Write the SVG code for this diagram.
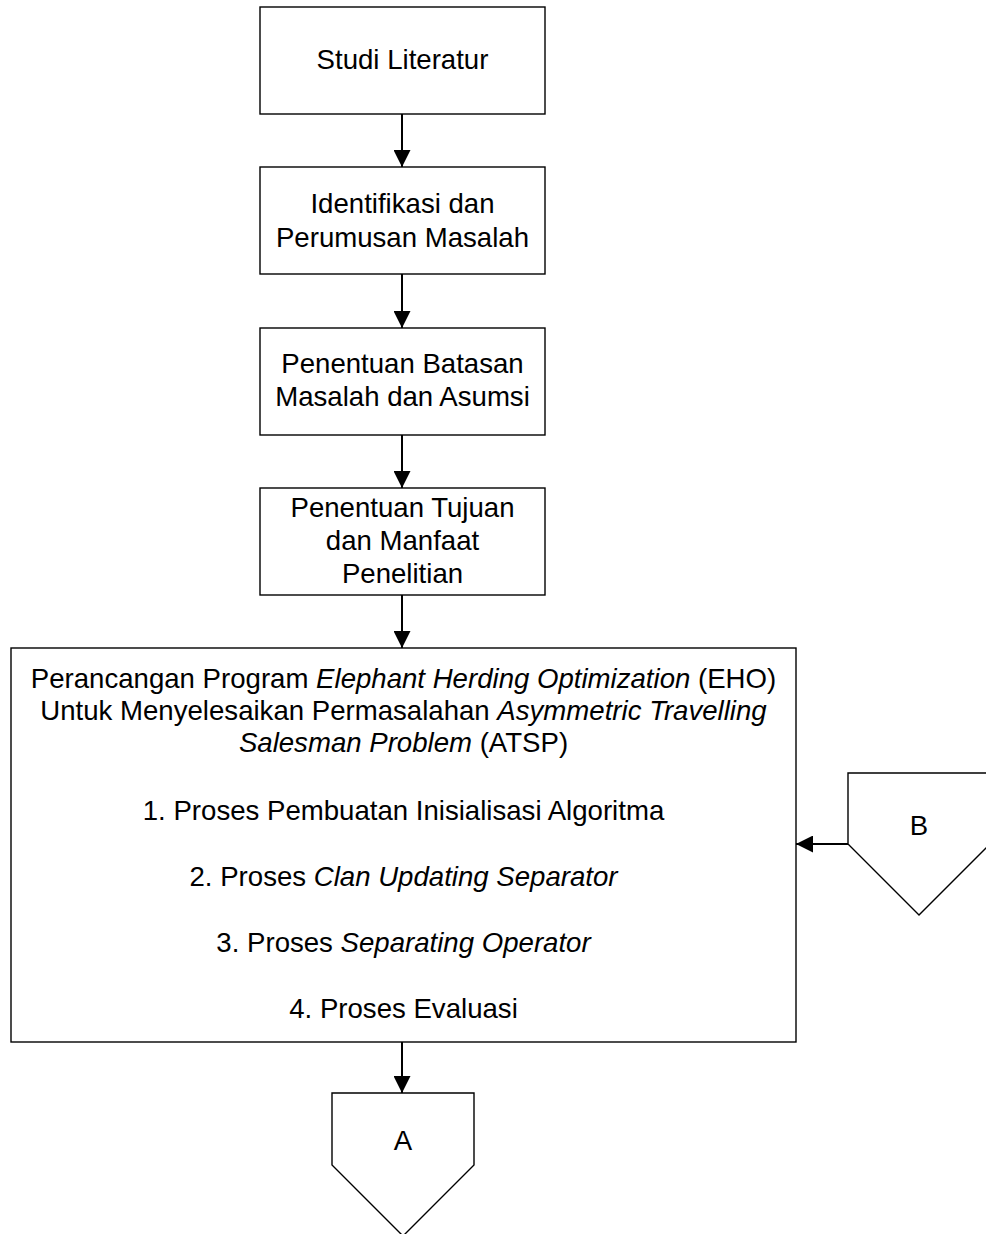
<svg xmlns="http://www.w3.org/2000/svg" width="986" height="1234" viewBox="0 0 986 1234">
<style>
.box{fill:#fff;stroke:#000;stroke-width:1.4}
.t{font-family:"Liberation Sans",Arial,sans-serif;font-size:27.6px;fill:#000;text-anchor:middle}
.i{font-style:italic}
.c{stroke:#000;stroke-width:2;fill:none}
</style>
<defs>
<marker id="ah" markerUnits="userSpaceOnUse" markerWidth="17" markerHeight="17" refX="17" refY="8.5" orient="auto">
<path d="M0,0 L17,8.5 L0,17 z" fill="#000"/>
</marker>
</defs>
<rect width="986" height="1234" fill="#fff"/>
<g id="connectors">
<line class="c" x1="402" y1="114" x2="402" y2="167" marker-end="url(#ah)"/>
<line class="c" x1="402" y1="274" x2="402" y2="328" marker-end="url(#ah)"/>
<line class="c" x1="402" y1="435" x2="402" y2="488" marker-end="url(#ah)"/>
<line class="c" x1="402" y1="595" x2="402" y2="648" marker-end="url(#ah)"/>
<line class="c" x1="402" y1="1042" x2="402" y2="1093" marker-end="url(#ah)"/>
<line class="c" x1="848" y1="844" x2="796" y2="844" marker-end="url(#ah)"/>
</g>
<g id="n1">
<rect class="box" x="260" y="7" width="285" height="107"/>
<text class="t" x="402.5" y="69">Studi Literatur</text>
</g>
<g id="n2">
<rect class="box" x="260" y="167" width="285" height="107"/>
<text class="t" x="402.5" y="213">Identifikasi dan</text>
<text class="t" x="402.5" y="247">Perumusan Masalah</text>
</g>
<g id="n3">
<rect class="box" x="260" y="328" width="285" height="107"/>
<text class="t" x="402.5" y="373">Penentuan Batasan</text>
<text class="t" x="402.5" y="406">Masalah dan Asumsi</text>
</g>
<g id="n4">
<rect class="box" x="260" y="488" width="285" height="107"/>
<text class="t" x="402.5" y="517">Penentuan Tujuan</text>
<text class="t" x="402.5" y="550">dan Manfaat</text>
<text class="t" x="402.5" y="583">Penelitian</text>
</g>
<g id="n5">
<rect class="box" x="11" y="648" width="785" height="394"/>
<text class="t" x="403.5" y="688">Perancangan Program <tspan class="i">Elephant Herding Optimization</tspan> (EHO)</text>
<text class="t" x="403.5" y="720">Untuk Menyelesaikan Permasalahan <tspan class="i">Asymmetric Travelling</tspan></text>
<text class="t" x="403.5" y="752"><tspan class="i">Salesman Problem</tspan> (ATSP)</text>
<text class="t" x="403.5" y="820">1. Proses Pembuatan Inisialisasi Algoritma</text>
<text class="t" x="403.5" y="886">2. Proses <tspan class="i">Clan Updating Separator</tspan></text>
<text class="t" x="403.5" y="952">3. Proses <tspan class="i">Separating Operator</tspan></text>
<text class="t" x="403.5" y="1018">4. Proses Evaluasi</text>
</g>
<g id="nA">
<path class="box" d="M332,1093 H474 V1165 L403,1236 L332,1165 Z"/>
<text class="t" x="403" y="1150">A</text>
</g>
<g id="nB">
<path class="box" d="M848,773 H990 V844 L919,915 L848,844 Z"/>
<text class="t" x="919" y="835">B</text>
</g>
</svg>
